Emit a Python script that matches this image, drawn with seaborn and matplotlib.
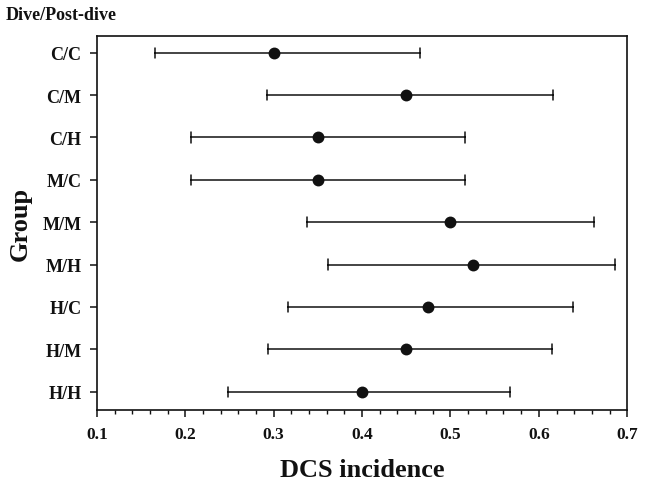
import matplotlib

matplotlib.use("Agg")
import matplotlib.pyplot as plt
import pandas as pd
import seaborn as sns
from matplotlib.ticker import MultipleLocator

# data
groups = ["C/C", "C/M", "C/H", "M/C", "M/M", "M/H", "H/C", "H/M", "H/H"]
incidence = [0.300, 0.450, 0.350, 0.350, 0.500, 0.525, 0.475, 0.450, 0.400]
ci_low = [0.166, 0.293, 0.206, 0.206, 0.338, 0.362, 0.316, 0.294, 0.248]
ci_high = [0.466, 0.616, 0.517, 0.517, 0.662, 0.686, 0.639, 0.615, 0.567]

# long table: median of (low, point, high) gives the point, 100% interval gives low..high
rows = []
for g, lo, mid, hi in zip(groups, ci_low, incidence, ci_high):
    for v in (lo, mid, hi):
        rows.append({"Group": g, "DCS incidence": v})
df = pd.DataFrame(rows)

sns.set_style("ticks")
plt.rcParams["font.family"] = ["Liberation Serif", "DejaVu Serif"]
plt.rcParams["font.weight"] = "bold"

fig, ax = plt.subplots(figsize=(6.5, 4.85), dpi=100)
fig.subplots_adjust(left=0.149, right=0.965, top=0.924, bottom=0.153)

sns.pointplot(
    data=df,
    x="DCS incidence",
    y="Group",
    order=groups,
    orient="h",
    estimator="median",
    errorbar=("pi", 100),
    capsize=0.24,
    linestyle="none",
    color="#111111",
    markersize=6.5,
    err_kws={"linewidth": 1.1},
    ax=ax,
)

ax.set_xlim(0.1, 0.7)
ax.set_ylim(8.43, -0.4)
ax.xaxis.set_major_locator(MultipleLocator(0.1))
ax.xaxis.set_minor_locator(MultipleLocator(0.02))
ax.xaxis.set_major_formatter(plt.FuncFormatter(lambda v, p: f"{v:.1f}"))

for side in ["top", "right", "left", "bottom"]:
    ax.spines[side].set_visible(True)
    ax.spines[side].set_linewidth(1.2)
    ax.spines[side].set_color("#111111")

ax.tick_params(axis="both", which="major", length=5, width=1.1, color="#111111", labelcolor="#111111")
ax.tick_params(axis="x", which="major", labelsize=12.5, pad=7)
ax.tick_params(axis="y", which="major", labelsize=13, pad=6)
ax.tick_params(axis="x", which="minor", length=3, width=1.0, color="#111111")
for lab in ax.get_xticklabels() + ax.get_yticklabels():
    lab.set_fontweight("bold")

ax.set_xlabel("DCS incidence", fontsize=19, fontweight="bold", labelpad=11, color="#111111")
ax.set_ylabel("Group", fontsize=19, fontweight="bold", labelpad=8, color="#111111")

fig.text(0.008, 0.968, "Dive/Post-dive", fontsize=13, fontweight="bold", va="center", ha="left", color="#111111")

fig.savefig("out.png", dpi=100)
